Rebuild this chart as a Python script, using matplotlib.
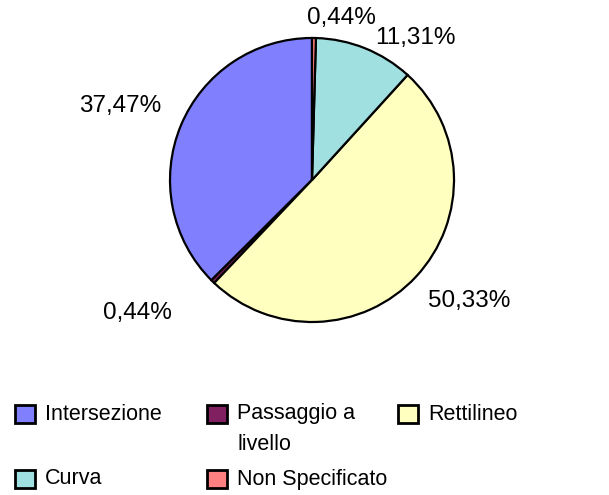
import matplotlib.pyplot as plt
from matplotlib.patches import Rectangle

plt.rcParams['font.family'] = ['Liberation Sans', 'DejaVu Sans']

categories = ["Intersezione", "Passaggio a\nlivello", "Rettilineo", "Curva", "Non Specificato"]
values = [37.47, 0.44, 50.33, 11.31, 0.44]
colors = ["#8080FF", "#802060", "#FFFFC0", "#A0E0E0", "#FF8080"]

# label positions relative to pie (units of radius)
label_pos = [(-1.35, 0.52), (-1.23, -0.94), (1.11, -0.85), (0.73, 1.0), (0.21, 1.14)]

W, H = 609, 495
fig = plt.figure(figsize=(W / 100, H / 100), dpi=100)

cx, cy, r = 312, 180, 142
ax = fig.add_axes([(cx - r) / W, (H - cy - r) / H, 2 * r / W, 2 * r / H])
ax.pie(values, colors=colors, startangle=90, counterclock=True,
       wedgeprops=dict(edgecolor='black', linewidth=1.6))
ax.set_xlim(-1, 1)
ax.set_ylim(-1, 1)
ax.set_aspect('auto')

for v, (x, y) in zip(values, label_pos):
    ax.text(x, y, ("%.2f%%" % v).replace('.', ','), ha='center', va='center',
            fontsize=17.5, clip_on=False)

# legend drawn by hand (Excel-like grid)
leg_x = [15, 207, 398]
leg_y = [414, 479]
order = [(0, 0), (0, 1), (0, 2), (1, 0), (1, 1)]
for i, (row, col) in enumerate(order):
    x0 = leg_x[col]
    y0 = leg_y[row]
    fig.patches.append(Rectangle((x0 / W, (H - y0 - 9) / H), 20 / W, 18 / H,
                                 transform=fig.transFigure, facecolor=colors[i],
                                 edgecolor='black', linewidth=2))
    fig.text((x0 + 30) / W, (H - y0) / H, categories[i].split('\n')[0],
             ha='left', va='center', fontsize=15.5)
    if '\n' in categories[i]:
        fig.text((x0 + 30) / W, (H - y0 - 31) / H, categories[i].split('\n')[1],
                 ha='left', va='center', fontsize=15.5)

fig.savefig("out.png", dpi=100)
